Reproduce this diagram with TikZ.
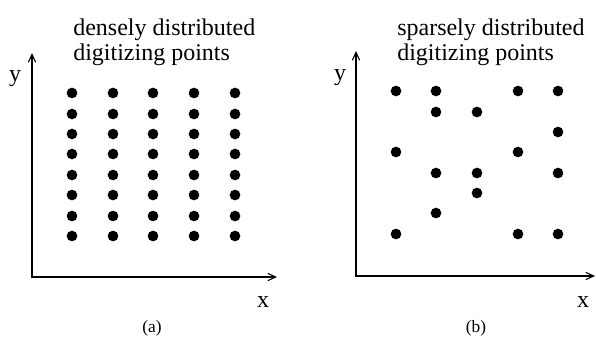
\documentclass[tikz,border=0pt]{standalone}
\usepackage{fontspec}
\setmainfont{Liberation Serif}
\usetikzlibrary{arrows.meta}

\begin{document}
\begin{tikzpicture}[
  x=0.75pt, y=-0.75pt,
  font=\fontsize{18}{18.75}\selectfont,
  >={Straight Barb[length=6pt,width=5.5pt]},
  axis/.style={<->, line width=0.8pt},
  dot/.style={circle, fill=black, inner sep=0pt, minimum size=8pt},
  title/.style={anchor=north west, align=left, inner sep=0pt},
  lbl/.style={inner sep=0pt},
  sublbl/.style={inner sep=0pt, font=\fontsize{13}{15}\selectfont},
]
\useasboundingbox (0,0) rectangle (596,347);
% (a) dense
\coordinate (a-o) at (32,277);
\coordinate (a-y) at (32,53);
\coordinate (a-x) at (277,277);
\draw[axis] (a-y) -- (a-o) -- (a-x);
\node[lbl] (a-ylbl) at (15,79) {y};
\node[lbl] (a-xlbl) at (263,302) {x};
\node[title] (a-title) at (73,19) {densely distributed\\digitizing points};
\foreach \c [count=\i] in {72,113,153,194,235}
  \foreach \r [count=\j] in {93,114,134,154,175,195,216,236}
    \node[dot] (a-\i-\j) at (\c,\r) {};
\node[sublbl] (a-sub) at (152,328) {(a)};
% (b) sparse
\coordinate (b-o) at (356,276);
\coordinate (b-y) at (356,51);
\coordinate (b-x) at (595,276);
\draw[axis] (b-y) -- (b-o) -- (b-x);
\node[lbl] (b-ylbl) at (340,78) {y};
\node[lbl] (b-xlbl) at (583,302) {x};
\node[title] (b-title) at (397,19) {sparsely distributed\\digitizing points};
\foreach \i/\j in {1/1,2/1,4/1,5/1,2/2,3/2,5/3,1/4,4/4,2/5,3/5,5/5,3/6,2/7,1/8,4/8,5/8} {
  \pgfmathsetmacro{\c}{{396,436,477,518,558}[\i-1]}
  \pgfmathsetmacro{\r}{{91,112,132,152,173,193,213,234}[\j-1]}
  \node[dot] (b-\i-\j) at (\c,\r) {};
}
\node[sublbl] (b-sub) at (476,328) {(b)};
\end{tikzpicture}
\end{document}
